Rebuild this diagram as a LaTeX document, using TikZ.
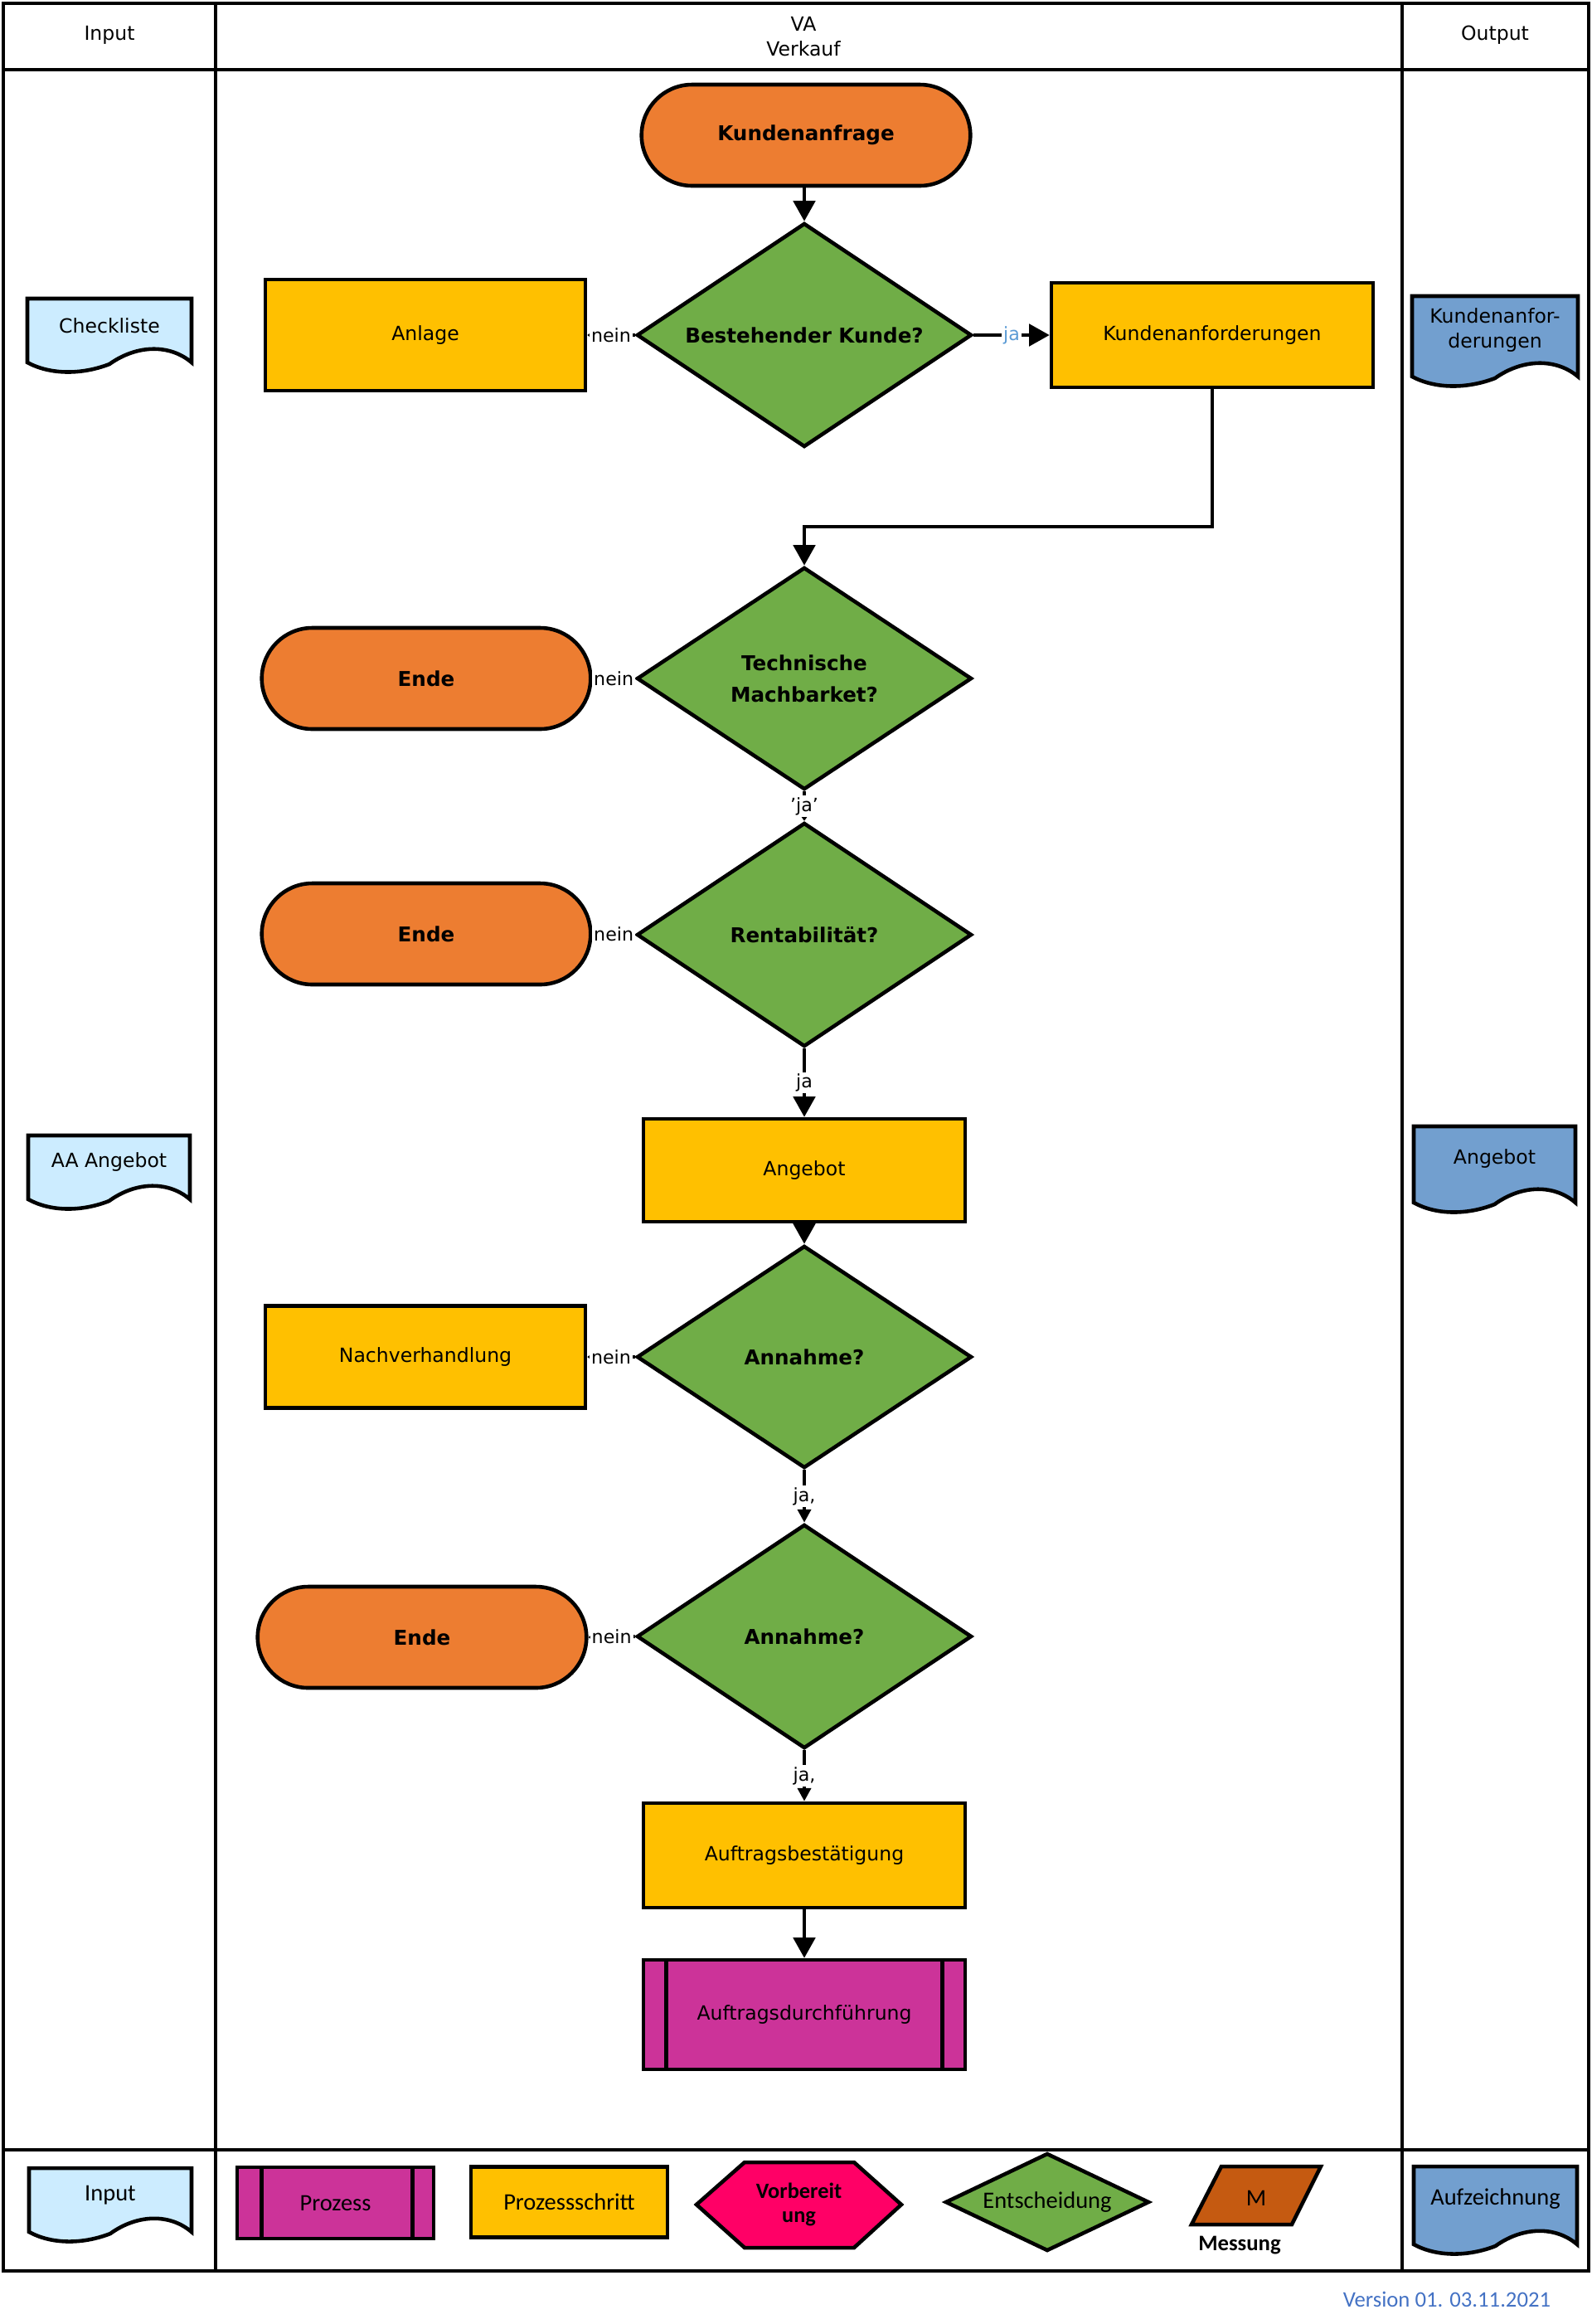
\documentclass[tikz,border=0pt]{standalone}
\usepackage{fontspec}
\setmainfont{DejaVu Sans}
\newfontfamily\legfont{Carlito}
\usetikzlibrary{arrows.meta,shapes.geometric,shapes.misc}

\definecolor{endefarbe}{HTML}{ED7D31}
\definecolor{gruen}{HTML}{70AD47}
\definecolor{gelb}{HTML}{FFC000}
\definecolor{dokhell}{HTML}{CCECFF}
\definecolor{dokblau}{HTML}{729FCF}
\definecolor{lila}{HTML}{CC3399}
\definecolor{pink}{HTML}{FF0066}
\definecolor{messfarbe}{HTML}{C55A11}
\definecolor{jablau}{HTML}{5B9BD5}
\definecolor{versionblau}{HTML}{4472C4}

\tikzset{
  rahmen/.style={line width=1.15pt},
  form/.style={draw, line width=1.3pt},
  fett/.style={font=\fontsize{7}{10.8}\selectfont\bfseries},
  legende/.style={font=\legfont\fontsize{8.1}{9.5}\selectfont},
  anfang/.style={form, rounded rectangle, fill=endefarbe, minimum width=4.2cm, minimum height=1.22cm, fett},
  frage/.style={form, diamond, aspect=1.5, fill=gruen, minimum width=4.04cm, minimum height=2.7cm, inner sep=0pt, align=center, fett},
  schritt/.style={form, rectangle, fill=gelb, minimum width=3.86cm, minimum height=1.26cm},
  prozess/.style={form, rectangle, fill=lila, minimum width=3.86cm, minimum height=1.32cm},
  pfeil/.style={line width=1.15pt, -{Triangle[length=7pt,width=7.5pt]}},
  pfeilm/.style={line width=1.15pt, -{Triangle[length=4.5pt,width=4.5pt]}},
  pfeilk/.style={line width=1.15pt, -{Triangle[length=1.6pt,width=2.2pt]}},
  marke/.style={fill=white, inner sep=0.6pt, font=\fontsize{6.3}{7}\selectfont, midway}
}

\newcommand{\dok}[8][]{%
  \draw[form, fill=#3] (#4,#5) -- ({#4+#6},#5) -- ({#4+#6},{#5+#7})
    .. controls ({#4+0.87*#6},{#5+#7-0.22}) and ({#4+0.67*#6},{#5+#7-0.22}) .. ({#4+0.5*#6},{#5+#7+0.02})
    .. controls ({#4+0.33*#6},{#5+#7+0.15}) and ({#4+0.14*#6},{#5+#7+0.15}) .. (#4,{#5+#7}) -- cycle;
  \node[align=center, #1] (#2) at ({#4+0.5*#6},{#5+0.42*#7}) {#8};}

\begin{document}
\begin{tikzpicture}[x=1cm, y=-1cm, font=\fontsize{6.7}{8.5}\selectfont]
    \useasboundingbox (0,0) rectangle (19.20,28.02);

    \draw[rahmen] (0.04,0.04) rectangle (19.16,27.38);
    \draw[rahmen] (0.04,0.84) -- (19.16,0.84);
    \draw[rahmen] (0.04,25.92) -- (19.16,25.92);
    \draw[rahmen] (2.60,0.04) -- (2.60,27.38);
    \draw[rahmen] (16.91,0.04) -- (16.91,27.38);

    \node (hin) at (1.32,0.42) {Input};
    \node[align=center] (hva) at (9.69,0.44) {VA\\Verkauf};
    \node (hout) at (18.03,0.42) {Output};

    \node[anfang] (kanfrage) at (9.72,1.63) {Kundenanfrage};
    \node[frage] (d1) at (9.70,4.04) {Bestehender Kunde?};
    \node[schritt, minimum height=1.34cm] (anlage) at (5.13,4.04) {Anlage};
    \node[schritt, minimum width=3.88cm] (kanf) at (14.62,4.04) {Kundenanforderungen};
    \node[frage, minimum height=2.68cm] (d2) at (9.70,8.18) {Technische\\Machbarket?};
    \node[anfang] (ende1) at (5.14,8.18) {Ende};
    \node[frage] (d3) at (9.70,11.27) {Rentabilität?};
    \node[anfang] (ende2) at (5.14,11.26) {Ende};
    \node[schritt, minimum width=3.88cm, minimum height=1.24cm] (angebot) at (9.70,14.11) {Angebot};
    \node[frage, minimum height=2.68cm] (d4) at (9.70,16.36) {Annahme?};
    \node[schritt, minimum height=1.23cm] (nachv) at (5.13,16.36) {Nachverhandlung};
    \node[frage] (d5) at (9.70,19.73) {Annahme?};
    \node[anfang] (ende3) at (5.09,19.74) {Ende};
    \node[schritt, minimum width=3.88cm] (abest) at (9.70,22.37) {Auftragsbestätigung};
    \node[prozess, minimum width=3.88cm] (adurch) at (9.70,24.29) {Auftragsdurchführung};
    \draw[form] ([xshift=0.30cm]adurch.north west) -- ([xshift=0.30cm]adurch.south west);
    \draw[form] ([xshift=-0.30cm]adurch.north east) -- ([xshift=-0.30cm]adurch.south east);

    \draw[pfeil] (kanfrage.south -| d1.north) -- (d1.north);
    \draw[pfeilk] (d1.west) -- node[marke] {nein} (anlage.east);
    \draw[pfeil] (d1.east) -- node[marke, text=jablau] {ja} (kanf.west);
    \draw[pfeil] (kanf.south) -- ++(0,1.66) -| (d2.north);
    \draw[pfeilk] (d2.west) -- node[marke] {nein} (ende1.east);
    \draw[pfeilk] (d2.south) -- node[marke] {'ja'} (d3.north);
    \draw[pfeilk] (d3.west) -- node[marke] {nein} (ende2.east);
    \draw[pfeil] (d3.south) -- node[marke] {ja} (angebot.north);
    \draw[pfeil] (angebot.south) -- (d4.north);
    \draw[pfeilk] (d4.west) -- node[marke] {nein} (nachv.east);
    \draw[pfeilm] (d4.south) -- node[marke] {ja,} (d5.north);
    \draw[pfeilk] (d5.west) -- node[marke] {nein} (ende3.east);
    \draw[pfeilm] (d5.south) -- node[marke] {ja,} (abest.north);
    \draw[pfeil] (abest.south) -- (adurch.north);

    \dok{checkl}{dokhell}{0.33}{3.60}{1.98}{0.77}{Checkliste}
    \dok{aaang}{dokhell}{0.34}{13.69}{1.95}{0.77}{AA Angebot}
    \dok{okanf}{dokblau}{17.03}{3.57}{2.00}{0.97}{Kundenanfor-\\derungen}
    \dok{oang}{dokblau}{17.05}{13.58}{1.95}{0.92}{Angebot}

    \dok[legende]{lin}{dokhell}{0.35}{26.14}{1.96}{0.77}{Input}
    \node[form, fill=lila, minimum width=2.37cm, minimum height=0.86cm, legende] (lproz) at (4.045,26.56) {Prozess};
    \draw[form] ([xshift=0.32cm]lproz.north west) -- ([xshift=0.32cm]lproz.south west);
    \draw[form] ([xshift=-0.28cm]lproz.north east) -- ([xshift=-0.28cm]lproz.south east);
    \node[form, fill=gelb, minimum width=2.37cm, minimum height=0.85cm, legende] (lschritt) at (6.865,26.55) {Prozessschritt};
    \draw[form, fill=pink] (8.40,26.58) -- (8.98,26.07) -- (10.30,26.07) -- (10.87,26.58) -- (10.30,27.10) -- (8.98,27.10) -- cycle;
    \node[align=center, font=\legfont\bfseries\fontsize{7.5}{8.3}\selectfont] (lvorb) at (9.635,26.58) {Vorbereit\\ung};
    \node[form, diamond, aspect=2.1, fill=gruen, minimum width=2.46cm, minimum height=1.18cm, inner sep=0pt, legende] (lentsch) at (12.63,26.55) {Entscheidung};
    \draw[form, fill=messfarbe] (14.73,26.12) -- (15.93,26.12) -- (15.58,26.82) -- (14.37,26.82) -- cycle;
    \node[legende] (lm) at (15.15,26.50) {M};
    \node[font=\legfont\bfseries\fontsize{7.6}{9}\selectfont] (lmess) at (14.95,27.07) {Messung};
    \dok[legende]{laufz}{dokblau}{17.05}{26.12}{1.97}{0.94}{Aufzeichnung}

    \node[text=versionblau, font=\legfont\fontsize{7.6}{9}\selectfont] (version) at (17.45,27.72) {Version 01. 03.11.2021};
\end{tikzpicture}
\end{document}
